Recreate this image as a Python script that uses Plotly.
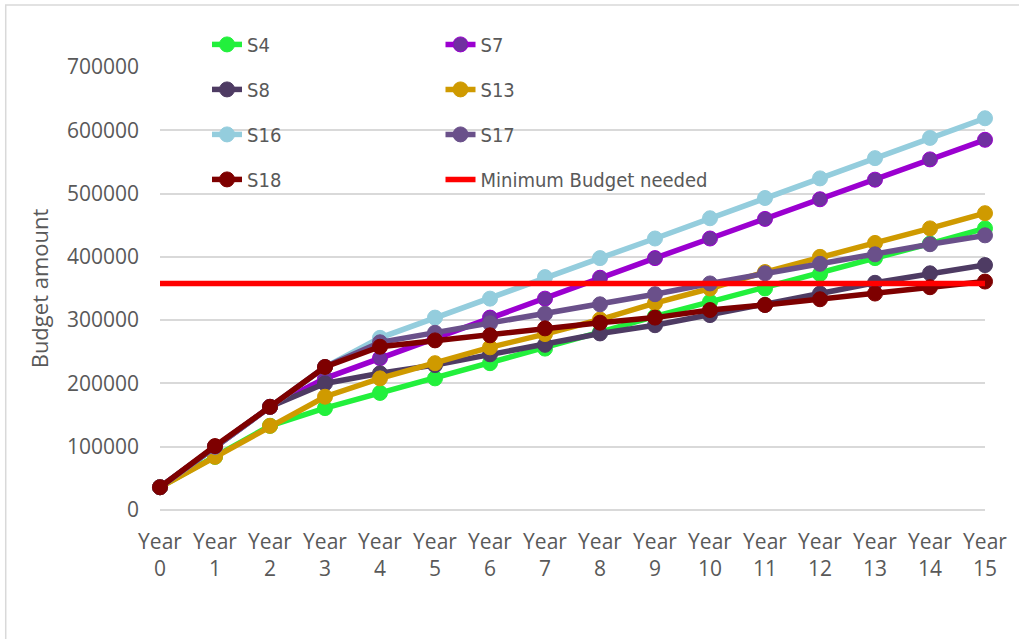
import plotly.graph_objects as go

# Budget projections per scenario, years 0-15
years = [f"Year {i}" for i in range(16)]
tick_text = [y.replace(" ", "<br>") for y in years]

s4 = [36000, 84000, 133000, 161000, 185000, 208000, 232000, 255000, 281000, 306000, 329000, 350000, 373000, 398000, 421000, 445000]
s7 = [36000, 100000, 163000, 208000, 240000, 272000, 304000, 334000, 367000, 398000, 429000, 460000, 491000, 522000, 554000, 585000]
s8 = [36000, 100000, 163000, 200000, 216000, 229000, 246000, 261000, 279000, 292000, 308000, 324000, 342000, 359000, 374000, 387000]
s13 = [36000, 84000, 133000, 179000, 208000, 232000, 257000, 278000, 301000, 327000, 350000, 376000, 400000, 422000, 445000, 469000]
s16 = [36000, 100000, 163000, 226000, 272000, 304000, 334000, 368000, 398000, 429000, 461000, 493000, 524000, 556000, 588000, 619000]
s17 = [36000, 100000, 163000, 226000, 265000, 280000, 295000, 310000, 325000, 341000, 358000, 374000, 389000, 404000, 420000, 434000]
s18 = [36000, 101000, 163000, 226000, 258000, 268000, 276000, 287000, 296000, 304000, 316000, 324000, 333000, 342000, 352000, 361000]
min_budget = [358000] * 16

# name, values, line colour, marker colour, legend column
series = [
    ("S4", s4, "#22F03C", "#22F03C", "legend"),
    ("S7", s7, "#9B00D0", "#7030A0", "legend2"),
    ("S8", s8, "#4E3B63", "#4E3B63", "legend"),
    ("S13", s13, "#CF9A00", "#CF9A00", "legend2"),
    ("S16", s16, "#94CDDD", "#94CDDD", "legend"),
    ("S17", s17, "#6A508A", "#6A508A", "legend2"),
    ("S18", s18, "#7E0000", "#7E0000", "legend"),
]

x_idx = list(range(len(years)))

fig = go.Figure()
for name, vals, lc, mc, leg in series:
    fig.add_trace(go.Scatter(
        x=x_idx, y=vals, name=name, mode="lines+markers",
        line=dict(color=lc, width=5.5),
        marker=dict(color=mc, size=15, line=dict(color=lc, width=1)),
        cliponaxis=False, legend=leg, legendgroup=name,
    ))

fig.add_trace(go.Scatter(
    x=x_idx, y=min_budget, name="Minimum Budget needed", mode="lines",
    line=dict(color="#FF0000", width=5.5), cliponaxis=False,
    legend="legend2", legendgroup="min",
))

text_color = "#595959"
font_family = "Open Sans"

legend_common = dict(
    orientation="v", xanchor="left", yanchor="top",
    bgcolor="rgba(0,0,0,0)", borderwidth=0,
    font=dict(family="DejaVu Sans Condensed, Open Sans", size=20, color=text_color),
    traceorder="grouped", tracegroupgap=16, itemwidth=30,
)

fig.update_layout(
    width=1019, height=639,
    margin=dict(l=160, r=29, t=67, b=129),
    paper_bgcolor="white", plot_bgcolor="white",
    font=dict(family=font_family, color=text_color, size=21),
    showlegend=True,
    legend=dict(x=0.057, y=1.095, **legend_common),
    legend2=dict(x=0.34, y=1.095, **legend_common),
    xaxis=dict(
        range=[0, 15], tickmode="array", tickvals=x_idx, ticktext=tick_text,
        showgrid=False, zeroline=False, showline=False, ticks="",
        tickfont=dict(size=21, color=text_color), ticklabelstandoff=17,
    ),
    yaxis=dict(
        range=[0, 700000], tickmode="linear", tick0=0, dtick=100000,
        showgrid=True, gridcolor="#D9D9D9", gridwidth=1.5,
        zeroline=True, zerolinecolor="#D9D9D9", zerolinewidth=1.5,
        showline=False, ticks="", tickformat="d",
        tickfont=dict(size=21, color=text_color), ticklabelstandoff=20,
        title=dict(text="Budget amount", font=dict(size=22, color=text_color), standoff=12),
    ),
    shapes=[dict(
        type="rect", xref="paper", yref="paper",
        x0=-0.187, x1=1.05, y0=-0.32, y1=1.14,
        line=dict(color="#D9D9D9", width=1.5), fillcolor="rgba(0,0,0,0)", layer="below",
    )],
)

fig.write_html("out.html")
